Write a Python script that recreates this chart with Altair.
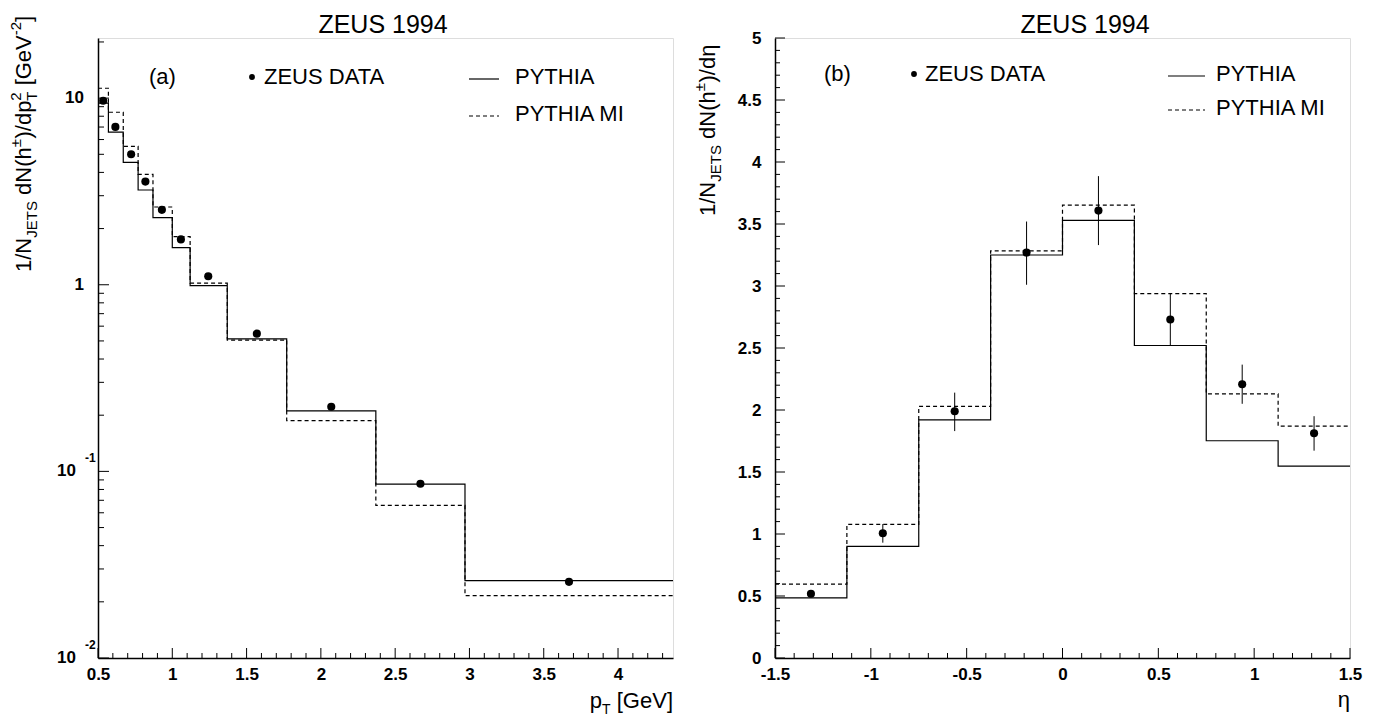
import altair as alt
import pandas as pd

FONT = "Liberation Sans"

# ---------------- data: panel (a) ----------------
pt_edges = [0.5, 0.57, 0.67, 0.77, 0.87, 1.0, 1.12, 1.37, 1.77, 2.37, 2.97, 4.37]
pt_pythia = [9.4, 6.57, 4.53, 3.22, 2.29, 1.58, 0.99, 0.513, 0.211, 0.0855, 0.026]
pt_pythia_mi = [11.3, 8.4, 5.52, 3.90, 2.61, 1.81, 1.02, 0.505, 0.187, 0.0657, 0.0216]
pt_data_x = [0.535, 0.617, 0.723, 0.819, 0.93, 1.058, 1.242, 1.569, 2.07, 2.67, 3.67]
pt_data_y = [9.68, 7.01, 5.0, 3.57, 2.52, 1.75, 1.11, 0.547, 0.222, 0.0859, 0.0256]
pt_major = [0.5, 1, 1.5, 2, 2.5, 3, 3.5, 4]
pt_minor = [round(0.5 + 0.1 * i, 2) for i in range(39) if i % 5 != 0]
pt_ymajor = [0.01, 0.1, 1, 10]
pt_yminor = [m * d for d in (0.01, 0.1, 1) for m in range(2, 10)] + [20]

# ---------------- data: panel (b) ----------------
eta_edges = [-1.5, -1.125, -0.75, -0.375, 0.0, 0.375, 0.75, 1.125, 1.5]
eta_pythia = [0.485, 0.90, 1.92, 3.25, 3.53, 2.52, 1.752, 1.547]
eta_pythia_mi = [0.595, 1.077, 2.03, 3.283, 3.653, 2.939, 2.13, 1.87]
eta_x = [-1.3125, -0.9375, -0.5625, -0.1875, 0.1875, 0.5625, 0.9375, 1.3125]
eta_y = [0.518, 1.006, 1.99, 3.27, 3.608, 2.73, 2.208, 1.813]
eta_lo = [0.49, 0.93, 1.83, 3.01, 3.33, 2.52, 2.05, 1.672]
eta_hi = [0.545, 1.08, 2.14, 3.52, 3.886, 2.936, 2.366, 1.95]
eta_major = [-1.5, -1, -0.5, 0, 0.5, 1, 1.5]
eta_minor = [round(-1.5 + 0.1 * i, 2) for i in range(31) if i % 5 != 0]
eta_ymajor = [0, 0.5, 1, 1.5, 2, 2.5, 3, 3.5, 4, 4.5, 5]
eta_yminor = [round(0.1 * i, 2) for i in range(51) if i % 5 != 0]

W, H = 575, 620
ONE = pd.DataFrame({"k": [0]})

# Arial / Liberation Sans advance widths (per 1000 em)
WID = {'1': 556, '/': 278, 'N': 722, 'J': 500, 'E': 667, 'T': 611, 'S': 667, ' ': 278,
       'd': 556, '(': 333, ')': 333, 'h': 556, '±': 584, 'p': 556, '2': 556, '[': 278,
       ']': 278, 'G': 778, 'e': 556, 'V': 667, '-': 333, 'η': 556}


def tw(s, size):
    return sum(WID.get(c, 556) for c in s) / 1000.0 * size


def txt(t, x, y, size, align="left", baseline="alphabetic", angle=None, weight="normal"):
    kw = dict(align=align, baseline=baseline, fontSize=size, font=FONT,
              fontWeight=weight, color="black")
    if angle is not None:
        kw["angle"] = angle
    return alt.Chart(ONE).mark_text(**kw).encode(
        x=alt.value(x), y=alt.value(y), text=alt.value(t))


SHIFT = {"main": 0.0, "sub": 0.26, "sup": -0.45}


def rot_label(pieces, bx, y0, F, f):
    """Rotated (reading upward) label made of main / sub / sup pieces."""
    out = []
    pos = y0
    for group in pieces:
        adv = 0
        for t, kind in group:
            size = F if kind == "main" else f
            core = t.lstrip(" ")
            lead = tw(t[: len(t) - len(core)], size)
            out.append(txt(core, bx + SHIFT[kind] * F, pos - lead, size, angle=270))
            adv = max(adv, tw(t, size))
        pos -= adv
    return out


def hor_label_right(pieces, xr, by, F, f):
    total = sum(tw(t, F if k == "main" else f) for t, k in pieces)
    x = xr - total
    out = []
    for t, kind in pieces:
        size = F if kind == "main" else f
        core = t.lstrip(" ")
        lead = tw(t[: len(t) - len(core)], size)
        out.append(txt(core, x + lead, by + SHIFT[kind] * F, size))
        x += tw(t, size)
    return out


def steps(edges, vals):
    return pd.DataFrame({"x": edges, "y": list(vals) + [vals[-1]]})


def xticks(vals, length, xs, ax):
    return alt.Chart(pd.DataFrame({"v": vals})).mark_rule(color="black", strokeWidth=1).encode(
        x=alt.X("v:Q", scale=xs, axis=ax), y=alt.value(H), y2=alt.value(H - length))


def yticks(vals, length, ys, ay):
    return alt.Chart(pd.DataFrame({"v": vals})).mark_rule(color="black", strokeWidth=1).encode(
        y=alt.Y("v:Q", scale=ys, axis=ay), x=alt.value(0), x2=alt.value(length))


def legend(row1, row2, xa, xdot, xzeus, xl1, xl2, xp, label):
    return [
        txt(label, xa, row1, 22),
        alt.Chart(ONE).mark_circle(size=34, color="black", opacity=1).encode(
            x=alt.value(xdot), y=alt.value(row1 - 7)),
        txt("ZEUS DATA", xzeus, row1, 22),
        alt.Chart(ONE).mark_rule(color="black", strokeWidth=1.2).encode(
            x=alt.value(xl1), x2=alt.value(xl2), y=alt.value(row1 - 5)),
        txt("PYTHIA", xp, row1, 22),
        alt.Chart(ONE).mark_rule(color="black", strokeWidth=1.2, strokeDash=[4, 3]).encode(
            x=alt.value(xl1), x2=alt.value(xl2), y=alt.value(row2 - 5)),
        txt("PYTHIA MI", xp, row2, 22),
    ]


def xaxis(values, expr):
    return alt.Axis(values=values, title=None, ticks=False, tickSize=0, grid=False,
                    domain=True, domainColor="black", domainWidth=1.5,
                    labelFont=FONT, labelFontWeight="bold", labelFontSize=17,
                    labelColor="black", labelPadding=8, labelFlush=False,
                    labelOverlap=False, labelExpr=expr)


# ================= panel (a) =================
xs_a = alt.Scale(domain=[0.5, 4.37], nice=False, zero=False)
ys_a = alt.Scale(type="log", domain=[0.01, 21], nice=False)

ax_a = xaxis(pt_major, "format(datum.value, '~g')")
ay_a = alt.Axis(labels=False, ticks=False, tickSize=0, grid=False, title=None,
                domain=True, domainColor="black", domainWidth=1.5)

solid_a = alt.Chart(steps(pt_edges, pt_pythia)).mark_line(
    interpolate="step-after", color="black", strokeWidth=1.2).encode(
    x=alt.X("x:Q", scale=xs_a, axis=ax_a), y=alt.Y("y:Q", scale=ys_a, axis=ay_a))
dash_a = alt.Chart(steps(pt_edges, pt_pythia_mi)).mark_line(
    interpolate="step-after", color="black", strokeWidth=1.2, strokeDash=[4, 3]).encode(
    x=alt.X("x:Q", scale=xs_a, axis=ax_a), y=alt.Y("y:Q", scale=ys_a, axis=ay_a))
pts_a = alt.Chart(pd.DataFrame({"x": pt_data_x, "y": pt_data_y})).mark_circle(
    size=66, color="black", opacity=1).encode(
    x=alt.X("x:Q", scale=xs_a, axis=ax_a), y=alt.Y("y:Q", scale=ys_a, axis=ay_a))

ylab_plain = alt.Chart(pd.DataFrame({"v": [10, 1], "t": ["10", "1"]})).mark_text(
    align="right", baseline="middle", font=FONT, fontWeight="bold", fontSize=17, color="black").encode(
    y=alt.Y("v:Q", scale=ys_a, axis=ay_a), x=alt.value(-14), text="t:N")
ylab_pow = alt.Chart(pd.DataFrame({"v": [0.1, 0.01], "t": ["10", "10"]})).mark_text(
    align="right", baseline="middle", font=FONT, fontWeight="bold", fontSize=17, color="black").encode(
    y=alt.Y("v:Q", scale=ys_a, axis=ay_a), x=alt.value(-22), text="t:N")
ylab_exp = alt.Chart(pd.DataFrame({"v": [0.1, 0.01], "t": ["-1", "-2"]})).mark_text(
    align="left", baseline="middle", font=FONT, fontWeight="bold", fontSize=12, color="black", dy=-13).encode(
    y=alt.Y("v:Q", scale=ys_a, axis=ay_a), x=alt.value(-13), text="t:N")

ylabel_a = rot_label(
    [[("1/N", "main")], [("JETS", "sub")], [(" dN(h", "main")], [("±", "sup")],
     [(")/dp", "main")], [("T", "sub"), ("2", "sup")], [(" [GeV", "main")],
     [("-2", "sup")], [("]", "main")]],
    -67, 234, 22, 15)
xlabel_a = hor_label_right([("p", "main"), ("T", "sub"), (" [GeV]", "main")], W, H + 50, 22, 14)

left = alt.layer(
    solid_a, dash_a, pts_a,
    xticks(pt_major, 10, xs_a, ax_a), xticks(pt_minor, 5, xs_a, ax_a),
    yticks(pt_ymajor, 11, ys_a, ay_a), yticks(pt_yminor, 6, ys_a, ay_a),
    ylab_plain, ylab_pow, ylab_exp,
    *ylabel_a, *xlabel_a,
    *legend(46, 83, 51, 154, 166, 371, 401, 417, "(a)"),
    txt("ZEUS 1994", 285, -5, 25, align="center"),
).properties(width=W, height=H)

# ================= panel (b) =================
xs_b = alt.Scale(domain=[-1.5, 1.5], nice=False, zero=False)
ys_b = alt.Scale(domain=[0, 5], nice=False, zero=False)

ax_b = xaxis(eta_major, "datum.value < 0 ? '-' + format(-datum.value, '~g') : format(datum.value, '~g')")
ay_b = alt.Axis(values=eta_ymajor, title=None, ticks=False, tickSize=0, grid=False,
                domain=True, domainColor="black", domainWidth=1.5,
                labelFont=FONT, labelFontWeight="bold", labelFontSize=17, labelColor="black",
                labelPadding=14, labelFlush=False, labelOverlap=False,
                labelExpr="format(datum.value, '~g')")

solid_b = alt.Chart(steps(eta_edges, eta_pythia)).mark_line(
    interpolate="step-after", color="black", strokeWidth=1.2).encode(
    x=alt.X("x:Q", scale=xs_b, axis=ax_b), y=alt.Y("y:Q", scale=ys_b, axis=ay_b))
dash_b = alt.Chart(steps(eta_edges, eta_pythia_mi)).mark_line(
    interpolate="step-after", color="black", strokeWidth=1.2, strokeDash=[4, 3]).encode(
    x=alt.X("x:Q", scale=xs_b, axis=ax_b), y=alt.Y("y:Q", scale=ys_b, axis=ay_b))
df_b = pd.DataFrame({"x": eta_x, "y": eta_y, "lo": eta_lo, "hi": eta_hi})
err_b = alt.Chart(df_b).mark_rule(color="black", strokeWidth=1).encode(
    x=alt.X("x:Q", scale=xs_b, axis=ax_b), y=alt.Y("lo:Q", scale=ys_b, axis=ay_b), y2="hi:Q")
pts_b = alt.Chart(df_b).mark_circle(size=66, color="black", opacity=1).encode(
    x=alt.X("x:Q", scale=xs_b, axis=ax_b), y=alt.Y("y:Q", scale=ys_b, axis=ay_b))

ylabel_b = rot_label(
    [[("1/N", "main")], [("JETS", "sub")], [(" dN(h", "main")], [("±", "sup")],
     [(")/dη", "main")]],
    -60, 178, 22, 15)
xlabel_b = [txt("η", W, H + 49, 22, align="right")]

right = alt.layer(
    solid_b, dash_b, err_b, pts_b,
    xticks(eta_major, 10, xs_b, ax_b), xticks(eta_minor, 5, xs_b, ax_b),
    yticks(eta_ymajor, 10, ys_b, ay_b), yticks(eta_yminor, 5, ys_b, ay_b),
    *ylabel_b, *xlabel_b,
    *legend(43, 77, 49, 139, 150, 393, 430, 441, "(b)"),
    txt("ZEUS 1994", 310, -5, 25, align="center"),
).properties(width=W, height=H)

chart = alt.hconcat(left, right, spacing=16).properties(
    padding={"top": 4, "left": 0, "right": 0, "bottom": 0}
).configure_view(stroke="#555", strokeWidth=1.5).configure(background="white")

chart.save("out.html", embed_options={"renderer": "svg", "actions": False})
